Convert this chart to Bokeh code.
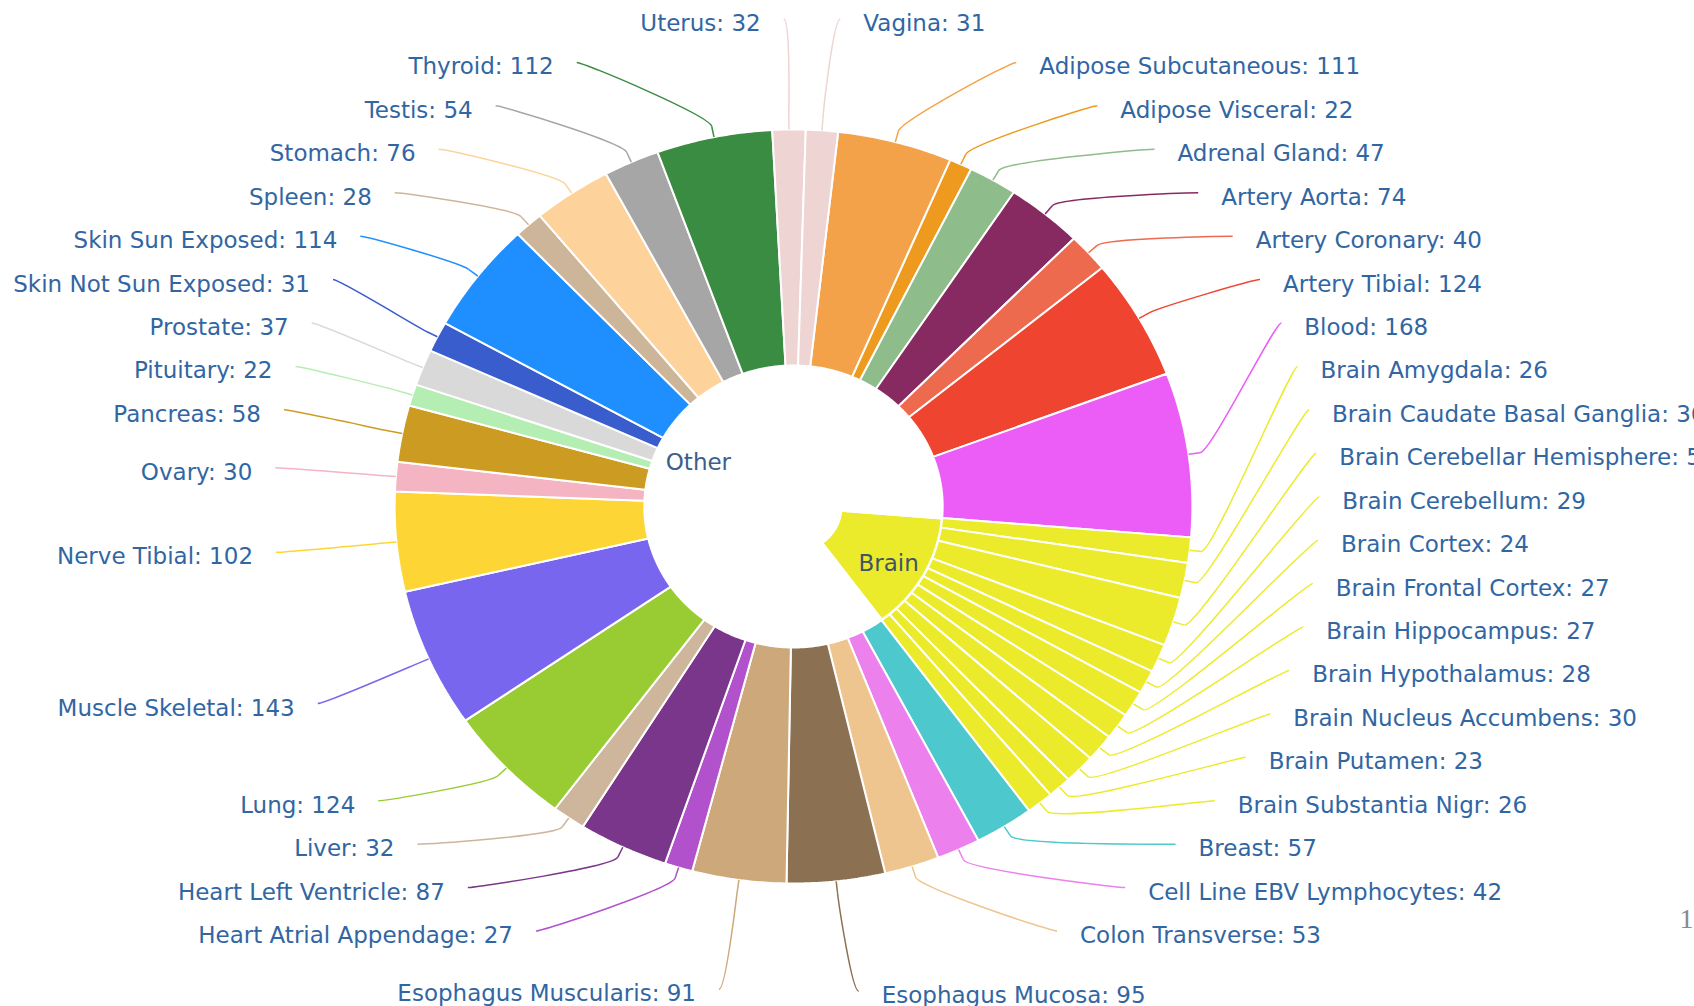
import math
from bokeh.plotting import figure
from bokeh.models import Range1d, ColumnDataSource
from bokeh.core.properties import value
from bokeh.embed import file_html
from bokeh.resources import INLINE

# ---------------- data ----------------
tissues = ["Adipose Subcutaneous", "Adipose Visceral", "Adrenal Gland", "Artery Aorta",
           "Artery Coronary", "Artery Tibial", "Blood", "Brain Amygdala",
           "Brain Caudate Basal Ganglia", "Brain Cerebellar Hemisphere", "Brain Cerebellum",
           "Brain Cortex", "Brain Frontal Cortex", "Brain Hippocampus", "Brain Hypothalamus",
           "Brain Nucleus Accumbens", "Brain Putamen", "Brain Substantia Nigr", "Breast",
           "Cell Line EBV Lymphocytes", "Colon Transverse", "Esophagus Mucosa",
           "Esophagus Muscularis", "Heart Atrial Appendage", "Heart Left Ventricle", "Liver",
           "Lung", "Muscle Skeletal", "Nerve Tibial", "Ovary", "Pancreas", "Pituitary",
           "Prostate", "Skin Not Sun Exposed", "Skin Sun Exposed", "Spleen", "Stomach",
           "Testis", "Thyroid", "Uterus", "Vagina"]
counts = [111, 22, 47, 74, 40, 124, 168,
          26, 36, 50, 29, 24, 27, 27, 28, 30, 23, 26,
          57, 42, 53, 95, 91, 27, 87, 32, 124, 143, 102, 30, 58, 22, 37, 31, 114, 28,
          76, 54, 112, 32, 31]
colors = ["#F4A24A", "#EE9A1E", "#8EBC8A", "#872A61", "#EE6A4E", "#EF4430", "#EC5DF7",
          "#ECEB2B", "#ECEB2B", "#ECEB2B", "#ECEB2B", "#ECEB2B", "#ECEB2B", "#ECEB2B",
          "#ECEB2B", "#ECEB2B", "#ECEB2B", "#ECEB2B",
          "#4DC8CC", "#EC80EC", "#EEC58F", "#8B7152", "#CCA87A", "#B152CC", "#79368A",
          "#CDB69C", "#99CC33", "#7966EE", "#FDD636", "#F5B4C1", "#CC9B22", "#B4EEB2",
          "#D9D9D9", "#3A5DCD", "#1F8FFF", "#CDB59A", "#FDD39B", "#A6A6A6", "#3A8C42",
          "#EED4D2", "#EED4D2"]
group_names = ["Brain", "Other"]
group_colors = ["#ECEB2B", "#FFFFFF"]
group_label_colors = ["#3f5566", "#3a5f8c"]

# ---------------- layout ----------------
W, H = 1694, 1006
CX, CY = 793.0, 506.0     # pie centre (page pixels)
LX = 796.0                # centre used for the label columns
KX = 1.058                # horizontal stretch of the picture
R = 377.0                 # outer radius
R_HOLE = 141.0            # hole of the outer ring
R_CORE = 45.0             # inner radius of the inner pie
RL = 487.5                # label circle radius
D = RL - R                # label distance
OFF = 11.0                # connector offset
CONN_GAP = 7.0            # connector end -> anchor (screen px)
PAD = 30.0                # anchor -> text (screen px)
TEXT_DY = 4.0
SLOT_H = 43.43
PLOT_H = 1006.0
START_DEG = 6.43
FONT = "23px"
LABEL_COLOR = "#3166a3"

p = figure(width=W, height=H, x_range=Range1d(0, W), y_range=Range1d(H, 0),
           output_backend="svg", toolbar_location=None, min_border=0,
           x_axis_type=None, y_axis_type=None)
p.grid.visible = False
p.outline_line_color = None
p.background_fill_color = "white"
p.border_fill_color = "white"

TWO_PI = 2 * math.pi
total = float(sum(counts))
start = math.radians(START_DEG - 90)


def sx(X):
    return CX + KX * X


def sector(a0, a1, r0, r1):
    n = max(6, int(abs(a1 - a0) * 180 / math.pi * 2))
    xs, ys = [], []
    for k in range(n + 1):
        a = a0 + (a1 - a0) * k / n
        xs.append(sx(r1 * math.cos(a)))
        ys.append(CY + r1 * math.sin(a))
    for k in range(n + 1):
        a = a1 - (a1 - a0) * k / n
        xs.append(sx(r0 * math.cos(a)))
        ys.append(CY + r0 * math.sin(a))
    return xs, ys


pts = []
cum = 0
for i, c in enumerate(counts):
    a0 = start + cum / total * TWO_PI
    cum += c
    a1 = start + cum / total * TWO_PI
    mid = (a0 + a1) / 2
    if mid > 1.5 * math.pi:
        mid -= TWO_PI
    elif mid < -math.pi / 2:
        mid += TWO_PI
    half = 1 if (mid < -math.pi / 2 or mid > math.pi / 2) else 0
    rX, rY = math.cos(mid) * R, math.sin(mid) * R
    lp = [rX + math.cos(mid) * D, CY + rY + math.sin(mid) * D,
          rX + math.cos(mid) * OFF, CY + rY + math.sin(mid) * OFF,
          rX, CY + rY]
    pts.append(dict(i=i, a0=a0, a1=a1, angle=mid, half=half, lp=lp, value=c))

# ---------- inner pie (groups) ----------
grp_ranges = {}
for pt in pts:
    g = "Brain" if tissues[pt["i"]].startswith("Brain") else "Other"
    if g not in grp_ranges:
        grp_ranges[g] = [pt["a0"], pt["a1"]]
    else:
        grp_ranges[g][1] = pt["a1"]
brain_a0, brain_a1 = grp_ranges["Brain"]
inner = {"Brain": (brain_a0, brain_a1), "Other": (brain_a1, brain_a0 + TWO_PI)}
ixs, iys, ifc = [], [], []
for g, col in zip(group_names, group_colors):
    xs, ys = sector(inner[g][0], inner[g][1], R_CORE, R_HOLE)
    ixs.append(xs); iys.append(ys); ifc.append(col)
p.patches(ixs, iys, fill_color=ifc, line_color="white", line_width=3)

# ---------- outer ring ----------
oxs, oys = [], []
for pt in pts:
    xs, ys = sector(pt["a0"], pt["a1"], R_HOLE, R)
    oxs.append(xs); oys.append(ys)
p.patches(oxs, oys, fill_color=colors, line_color="white", line_width=2)

# ---------- data label placement (anti-collision slots) ----------


def getX(y, left):
    v = max(-1.0, min(1.0, (y - CY) / RL))
    a = math.asin(v)
    return (-1 if left else 1) * math.cos(a) * RL


halves = [[], []]
for pt in pts:
    halves[pt["half"]].append(pt)

top = max(0.0, CY - RL)
bottom = min(CY + RL, PLOT_H)
placed = []
for side in (1, 0):
    points = halves[side]
    sign = side - 0.5
    points.sort(key=lambda q: -q["angle"] * sign * 2)
    slots = []
    pos = top
    while pos <= bottom + 1e-9:
        slots.append(pos)
        pos += SLOT_H
    nslots = len(slots)
    if len(points) > nslots:
        rank = sorted(points, key=lambda q: -q["value"])
        keep = set(id(q) for q in rank[:nslots])
        points = [q for q in points if id(q) in keep]
    length = len(points)
    used = []
    for j, pt in enumerate(points):
        natural = pt["lp"][1]
        closest, si = 9999, 0
        for k in range(nslots):
            sv = slots[k] if slots[k] is not None else 0
            dist = abs(sv - natural)
            if dist < closest:
                closest, si = dist, k
        if si < j and slots[j] is not None:
            si = j
        elif nslots < length - j + si and slots[j] is not None:
            si = nslots - length + j
            while si < nslots and slots[si] is None:
                si += 1
        else:
            while si < nslots and slots[si] is None:
                si += 1
        si = min(si, nslots - 1)
        used.append((si, slots[si] if slots[si] is not None else natural))
        slots[si] = None
    used.sort(key=lambda u: -u[1])
    for j, pt in enumerate(points):
        natural = pt["lp"][1]
        si, y = used.pop()
        nxt = slots[si + 1] if si + 1 < nslots else "undef"
        prv = slots[si - 1] if si - 1 >= 0 else "undef"
        if (natural > y and nxt is not None) or (natural < y and prv is not None):
            y = min(max(0.0, natural), PLOT_H)
        yy = natural if (abs(y - top) < 1e-9 or abs(y - bottom) < 1e-9) else y
        x = getX(yy, side == 1)
        placed.append((pt, x, y, side))

# ---------- connectors ----------
bz = dict(x0=[], y0=[], x1=[], y1=[], cx0=[], cy0=[], cx1=[], cy1=[], color=[])
sg = dict(x0=[], y0=[], x1=[], y1=[], color=[])
lab_r = dict(x=[], y=[], text=[])
lab_l = dict(x=[], y=[], text=[])
for pt, x, y, side in placed:
    lp = pt["lp"]
    col = colors[pt["i"]]
    sgn = -1 if side == 1 else 1
    ax = LX + KX * x
    bz["x0"].append(ax + sgn * CONN_GAP); bz["y0"].append(y)
    bz["cx0"].append(ax); bz["cy0"].append(y)
    bz["cx1"].append(sx(2 * lp[2] - lp[4])); bz["cy1"].append(2 * lp[3] - lp[5])
    bz["x1"].append(sx(lp[2])); bz["y1"].append(lp[3])
    bz["color"].append(col)
    sg["x0"].append(sx(lp[2])); sg["y0"].append(lp[3])
    sg["x1"].append(sx(lp[4])); sg["y1"].append(lp[5])
    sg["color"].append(col)
    txt = "%s: %d" % (tissues[pt["i"]], counts[pt["i"]])
    tgt = lab_l if side == 1 else lab_r
    tgt["x"].append(ax + sgn * PAD)
    tgt["y"].append(y + TEXT_DY)
    tgt["text"].append(txt)

p.bezier(x0="x0", y0="y0", x1="x1", y1="y1", cx0="cx0", cy0="cy0", cx1="cx1", cy1="cy1",
         line_color="color", line_width=1.5, source=ColumnDataSource(bz))
p.segment(x0="x0", y0="y0", x1="x1", y1="y1", line_color="color", line_width=1.5,
          source=ColumnDataSource(sg))

p.text(x="x", y="y", text="text", source=ColumnDataSource(lab_r), text_align="left",
       text_baseline="middle", text_font=value("DejaVu Sans"), text_font_size=FONT,
       text_color=LABEL_COLOR)
p.text(x="x", y="y", text="text", source=ColumnDataSource(lab_l), text_align="right",
       text_baseline="middle", text_font=value("DejaVu Sans"), text_font_size=FONT,
       text_color=LABEL_COLOR)

# ---------- inner pie labels ----------
gl = dict(x=[], y=[], text=[], color=[])
for g, lc in zip(group_names, group_label_colors):
    a0, a1 = inner[g]
    m = (a0 + a1) / 2
    gl["x"].append(sx(103 * math.cos(m)))
    gl["y"].append(CY + 103 * math.sin(m) + 6)
    gl["text"].append(g)
    gl["color"].append(lc)
p.text(x="x", y="y", text="text", text_color="color", source=ColumnDataSource(gl),
       text_align="center", text_baseline="middle", text_font=value("DejaVu Sans"),
       text_font_size=FONT)

# stray page number at the right edge
p.text(x=[1693], y=[918], text=["1"], text_align="right", text_baseline="middle",
       text_font=value("Liberation Serif"), text_font_size="28px", text_color="#8a8a8a")

open("out.html", "w").write(file_html(p, INLINE))
